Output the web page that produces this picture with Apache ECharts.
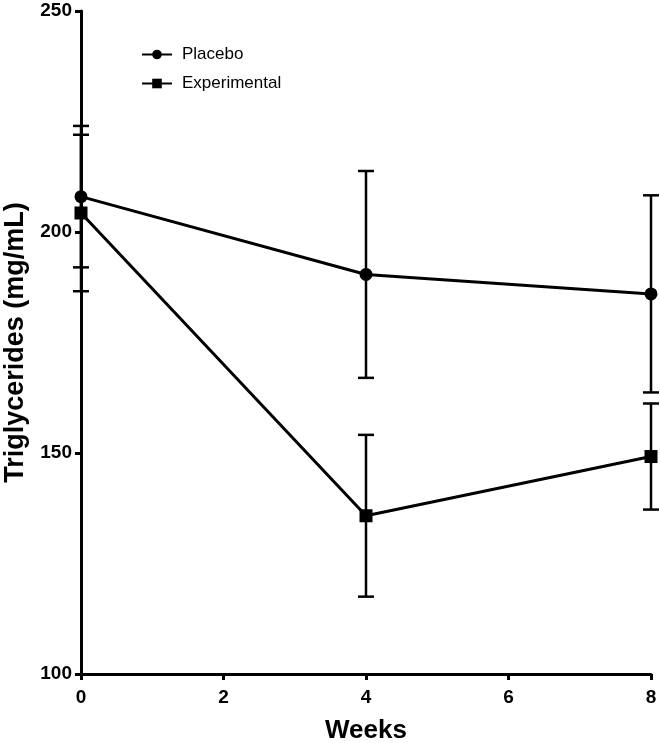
<!DOCTYPE html>
<html>
<head>
<meta charset="utf-8">
<script src="https://cdn.jsdelivr.net/npm/echarts@6/dist/echarts.min.js"></script>
<style>
html,body{margin:0;padding:0;background:#fff;}
#chart{width:660px;height:743px;}
</style>
</head>
<body>
<div id="chart"></div>
<script>
// Data
const weeks = [0, 4, 8];
const placeboMean = [208, 190.4, 186];
const placeboErr = [16, 23.4, 22.3];
const expMean = [204.3, 135.8, 149.2];
const expErr = [17.7, 18.3, 12];
const xTicks = [0, 2, 4, 6, 8];
const yTicks = [100, 150, 200, 250];

const FONT = '"Liberation Sans", Arial, Helvetica, sans-serif';

function pairs(xs, ys) { return xs.map((x, i) => [x, ys[i]]); }
function errData(xs, m, e) { return xs.map((x, i) => [x, m[i] - e[i], m[i] + e[i]]); }

function errRender(params, api) {
  const x = api.value(0);
  const lo = api.coord([x, api.value(1)]);
  const hi = api.coord([x, api.value(2)]);
  const hw = 8;
  const style = { stroke: '#000', lineWidth: 2.5, fill: null };
  return {
    type: 'group',
    children: [
      { type: 'line', shape: { x1: lo[0], y1: lo[1], x2: hi[0], y2: hi[1] }, style: style },
      { type: 'line', shape: { x1: lo[0] - hw, y1: lo[1], x2: lo[0] + hw, y2: lo[1] }, style: style },
      { type: 'line', shape: { x1: hi[0] - hw, y1: hi[1], x2: hi[0] + hw, y2: hi[1] }, style: style }
    ]
  };
}

const chart = echarts.init(document.getElementById('chart'), null, { renderer: 'canvas' });
chart.setOption({
  backgroundColor: '#fff',
  animation: false,
  grid: { left: 81, right: 9, top: 11, bottom: 69, containLabel: false, outerBoundsMode: 'none' },
  legend: {
    left: 141, top: 46, orient: 'vertical', padding: 0,
    itemWidth: 30, itemHeight: 12, itemGap: 12,
    textStyle: { fontFamily: FONT, fontSize: 17, color: '#000', padding: [0, 0, 0, 5] },
    data: ['Placebo', 'Experimental']
  },
  xAxis: {
    type: 'value', min: xTicks[0], max: xTicks[xTicks.length - 1], interval: 2,
    name: 'Weeks', nameLocation: 'middle', nameGap: 44,
    nameTextStyle: { fontFamily: FONT, fontSize: 26, fontWeight: 'bold', color: '#000' },
    axisLine: { show: true, onZero: false, lineStyle: { color: '#000', width: 3 } },
    axisTick: { show: true, length: 6, lineStyle: { color: '#000', width: 3 } },
    axisLabel: { fontFamily: FONT, fontSize: 19, fontWeight: 'bold', color: '#000', margin: 14 },
    splitLine: { show: false }
  },
  yAxis: {
    type: 'value', min: yTicks[0], max: yTicks[yTicks.length - 1], interval: 50,
    name: 'Triglycerides (mg/mL)', nameLocation: 'middle', nameGap: 52, nameRotate: 90,
    nameTextStyle: { fontFamily: FONT, fontSize: 27, fontWeight: 'bold', color: '#000' },
    axisLine: { show: true, onZero: false, lineStyle: { color: '#000', width: 3 } },
    axisTick: { show: true, length: 6, lineStyle: { color: '#000', width: 3 } },
    axisLabel: { fontFamily: FONT, fontSize: 19, fontWeight: 'bold', color: '#000', margin: 9 },
    splitLine: { show: false }
  },
  series: [
    {
      name: 'Placebo', type: 'line', data: pairs(weeks, placeboMean),
      symbol: 'circle', symbolSize: 13, z: 5,
      lineStyle: { color: '#000', width: 3 }, itemStyle: { color: '#000' }
    },
    {
      name: 'Experimental', type: 'line', data: pairs(weeks, expMean),
      symbol: 'rect', symbolSize: 13, z: 5,
      lineStyle: { color: '#000', width: 3 }, itemStyle: { color: '#000' }
    },
    {
      name: 'PlaceboErr', type: 'custom', data: errData(weeks, placeboMean, placeboErr),
      renderItem: errRender, z: 4, clip: false
    },
    {
      name: 'ExpErr', type: 'custom', data: errData(weeks, expMean, expErr),
      renderItem: errRender, z: 4, clip: false
    }
  ]
});
</script>
</body>
</html>
